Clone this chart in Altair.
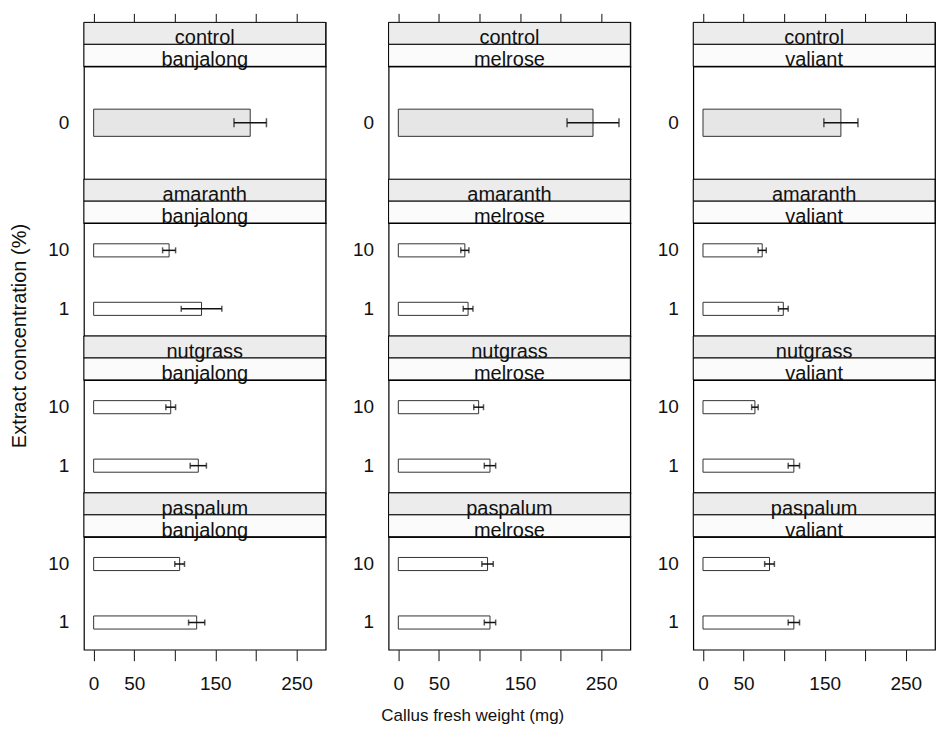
import altair as alt
import pandas as pd

# ---------------- data ----------------
cultivars = ["banjalong", "melrose", "valiant"]
row_extract = ["control", "amaranth", "amaranth", "nutgrass", "nutgrass", "paspalum", "paspalum"]
row_conc = ["0", "10", "1", "10", "1", "10", "1"]
extracts = ["control", "amaranth", "nutgrass", "paspalum"]

banjalong_mean = [193, 93, 133, 95, 129, 106, 127]
banjalong_se = [20, 8, 25, 6, 10, 6, 10]
melrose_mean = [240, 82, 86, 99, 113, 110, 113]
melrose_se = [32, 5, 6, 6, 7, 7, 7]
valiant_mean = [170, 73, 99, 64, 112, 82, 112]
valiant_se = [21, 5, 6, 4, 7, 6, 7]

x_ticks = [0, 50, 100, 150, 200, 250]
x_domain = [-12, 286]

y_title = "Extract concentration (%)"
x_title = "Callus fresh weight (mg)"

# ---------------- table ----------------
means = {"banjalong": banjalong_mean, "melrose": melrose_mean, "valiant": valiant_mean}
ses = {"banjalong": banjalong_se, "melrose": melrose_se, "valiant": valiant_se}
rows = []
for c in cultivars:
    for i in range(len(row_conc)):
        m = means[c][i]
        s = ses[c][i]
        rows.append({"cultivar": c, "extract": row_extract[i], "conc": row_conc[i],
                     "mean": m, "lo": m - s, "hi": m + s, "zero": 0})
df = pd.DataFrame(rows)

# ---------------- style ----------------
FONT = "Liberation Sans"
INK = "#111111"
W = 242
HS = 44      # strip height (two lines)
HB = 113     # panel body height
TOTAL_H = 4 * (HS + HB)

xscale = alt.Scale(domain=x_domain, nice=False, zero=False)


def strip(cult, ext, first):
    sd = pd.DataFrame({"row": [0, 1], "line": [ext, cult], "zero": [0, 0]})
    base = alt.Chart(sd)
    y = alt.Y("row:O", axis=None, scale=alt.Scale(paddingInner=0, paddingOuter=0))
    rect = base.mark_rect(stroke="black", strokeWidth=1).encode(
        y=y,
        x=alt.value(0),
        x2=alt.value(W),
        fill=alt.Fill("row:O", scale=alt.Scale(domain=[0, 1], range=["#ececec", "#fbfbfb"]), legend=None),
    )
    text = base.mark_text(fontSize=20, font=FONT, baseline="alphabetic", dy=0, color=INK).encode(
        y=alt.Y("row:O", axis=None, bandPosition=1, scale=alt.Scale(paddingInner=0, paddingOuter=0)),
        text="line:N", x=alt.value(W / 2)
    )
    layers = [rect, text]
    if first:
        ax = base.mark_point(opacity=0).encode(
            x=alt.X("zero:Q", scale=xscale,
                    axis=alt.Axis(orient="top", values=x_ticks, labels=False, tickSize=9,
                                  domain=False, grid=False, title=None, tickColor=INK,
                                  tickWidth=1, minExtent=0)),
            y=y,
        )
        layers.append(ax)
    return alt.layer(*layers).properties(width=W, height=HS)


def body(cult, ext, last):
    sub = df[(df.cultivar == cult) & (df.extract == ext)]
    order = list(sub.conc)
    is_control = len(order) == 1
    base = alt.Chart(sub)
    y = alt.Y("conc:N", sort=order,
              scale=alt.Scale(paddingInner=0.776, paddingOuter=0.353),
              axis=alt.Axis(title=None, ticks=False, domain=False, labelFontSize=19,
                            labelFont=FONT, labelColor=INK, labelPadding=15, grid=False))
    if last:
        xaxis = alt.Axis(orient="bottom", values=x_ticks,
                         labelExpr="datum.value == 100 || datum.value == 200 ? '' : datum.label",
                         tickSize=11, labelFontSize=19, labelFont=FONT, labelColor=INK,
                         labelPadding=14, domain=False, grid=False, title=None,
                         tickColor=INK, tickWidth=1)
    else:
        xaxis = None
    bars = base.mark_bar(fill="#e6e6e6" if is_control else "#ffffff",
                         stroke="#333333", strokeWidth=1).encode(
        x=alt.X("zero:Q", scale=xscale, axis=xaxis),
        x2="mean:Q",
        y=y,
    )
    err = base.mark_rule(color=INK, strokeWidth=1.5).encode(
        x=alt.X("lo:Q", scale=xscale), x2="hi:Q", y=y
    )
    cap = 9 if is_control else 6
    cap_lo = base.mark_tick(color=INK, size=cap, thickness=1.5).encode(
        x=alt.X("lo:Q", scale=xscale), y=y
    )
    cap_hi = base.mark_tick(color=INK, size=cap, thickness=1.5).encode(
        x=alt.X("hi:Q", scale=xscale), y=y
    )
    return alt.layer(bars, err, cap_lo, cap_hi).properties(width=W, height=HB)


cols = []
for c in cultivars:
    parts = []
    for j, e in enumerate(extracts):
        parts.append(strip(c, e, j == 0))
        parts.append(body(c, e, j == len(extracts) - 1))
    cols.append(alt.vconcat(*parts, spacing=0, bounds="flush"))

ytitle_chart = alt.Chart(pd.DataFrame({"t": [y_title]})).mark_text(
    angle=270, fontSize=20, font=FONT, baseline="middle", color=INK
).encode(
    text="t:N", x=alt.value(5), y=alt.value(TOTAL_H / 2)
).properties(width=10, height=TOTAL_H, view=alt.ViewBackground(stroke="transparent"))

panels = alt.hconcat(*cols, spacing=24)

chart = alt.hconcat(ytitle_chart, panels, spacing=16).properties(
    title=alt.TitleParams(text=x_title, orient="bottom", anchor="middle", fontSize=17,
                          font=FONT, fontWeight="normal", color=INK, offset=14),
    padding={"left": 1, "top": 3, "right": 1, "bottom": 0},
    background="white",
).configure_view(stroke="black", strokeWidth=1.2)

chart.save("out.html", embed_options={"renderer": "svg", "actions": False})
